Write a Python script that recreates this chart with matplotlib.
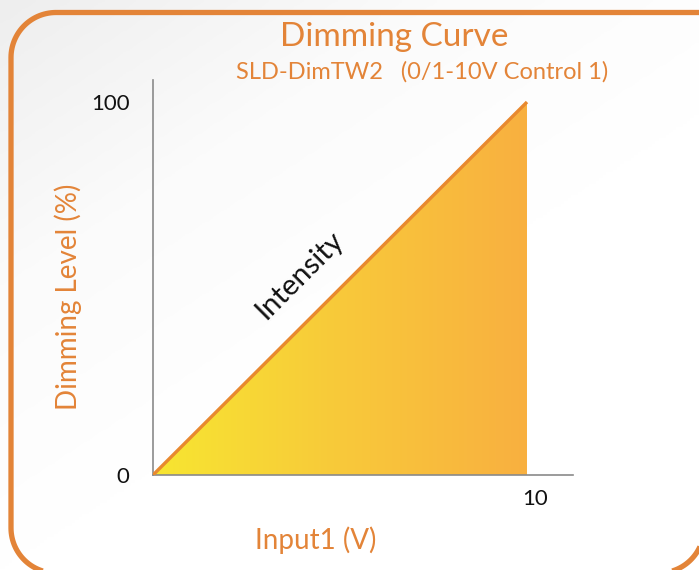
import numpy as np
import matplotlib.pyplot as plt
from matplotlib.patches import PathPatch, Polygon
from matplotlib.path import Path
from matplotlib.transforms import Affine2D, ScaledTranslation
from matplotlib.colors import LinearSegmentedColormap

# data
input_v = [0, 10]
dim_level = [0, 100]
x_ticks = [10]
y_ticks = [0, 100]

orange = '#e38438'
plt.rcParams['font.family'] = ['Lato', 'DejaVu Sans']

W, H = 699, 570
fig = plt.figure(figsize=(W / 100, H / 100), dpi=100)

# light background gradient over whole figure
bg = fig.add_axes([0, 0, 1, 1], zorder=-10)
gx, gy = np.meshgrid(np.linspace(0, 1, 200), np.linspace(0, 1, 200))
shade = np.clip(0.8 * gx + 1.0 * gy, 0, 1)
bg.imshow(shade, cmap=LinearSegmentedColormap.from_list('bg', ['#eeeeee', '#fbfbfb', '#ffffff']),
          extent=[0, 1, 0, 1], aspect='auto', origin='upper')
bg.set_xlim(0, 1)
bg.set_ylim(0, 1)
bg.axis('off')

# rounded frame (pixel coords, y down), open on the right side
r = 45
def arc(cx, cy, a0, a1):
    t = np.radians(np.linspace(a0, a1, 30))
    return np.column_stack([cx + r * np.cos(t), cy + r * np.sin(t)])
pts = np.vstack([[[760, 12.5]],
                 arc(56, 57.5, 270, 180),
                 arc(56, 528, 180, 90),
                 arc(659, 528, 90, 0),
                 [[704, 300]]])
to_fig = Affine2D().scale(1 / W, -1 / H).translate(0, 1) + fig.transFigure
fig.patches.append(PathPatch(Path(pts), transform=to_fig, fill=False, edgecolor=orange, linewidth=3.8))

ax = fig.add_axes([153 / W, 95 / H, 420 / W, 395 / H])
ax.patch.set_alpha(0)
ax.set_xlim(0, 11.23)
ax.set_ylim(0, 105.9)

# gradient fill under the curve
cmap = LinearSegmentedColormap.from_list('dim', ['#f7e631', '#f8c93a', '#f9b040'])
grad = np.linspace(0, 1, 256).reshape(1, -1)
im = ax.imshow(grad, cmap=cmap, extent=[input_v[0], input_v[-1], dim_level[0], dim_level[-1]],
               aspect='auto', origin='lower', zorder=1)
tri = Polygon([[input_v[0], dim_level[0]], [input_v[-1], dim_level[-1]], [input_v[-1], dim_level[0]]],
              closed=True, transform=ax.transData)
im.set_clip_path(tri)
ax.plot(input_v, dim_level, color='#e8892f', linewidth=2.4, zorder=3, solid_capstyle='butt')

ax.text(3.93, 53.6, 'Intensity', rotation=45, ha='center', va='center', fontsize=21, color='#111111')

for s in ['top', 'right']:
    ax.spines[s].set_visible(False)
for s in ['left', 'bottom']:
    ax.spines[s].set_color('#8a8a8a')
    ax.spines[s].set_linewidth(1.2)

ax.set_xticks(x_ticks)
ax.set_yticks(y_ticks)
ax.tick_params(length=0, labelsize=16, colors='#111111')
ax.tick_params(axis='y', pad=17)
ax.tick_params(axis='x', pad=10)
for lab in ax.get_xticklabels():
    lab.set_transform(lab.get_transform() + ScaledTranslation(0.08, 0, fig.dpi_scale_trans))

ax.set_xlabel('Input1 (V)', fontsize=20, color=orange)
ax.xaxis.set_label_coords(0.388, -0.165)
ax.xaxis.label.set_va('center')
ax.set_ylabel('Dimming Level (%)', fontsize=20, color=orange)
ax.yaxis.set_label_coords(-0.202, 0.45)
ax.yaxis.label.set_va('center')

fig.text(394 / W, 1 - 37 / H, 'Dimming Curve', ha='center', va='center', fontsize=24, color=orange)
fig.text(422 / W, 1 - 72 / H, 'SLD-DimTW2   (0/1-10V Control 1)', ha='center', va='center', fontsize=17, color=orange)

fig.savefig('out.png', dpi=100)
